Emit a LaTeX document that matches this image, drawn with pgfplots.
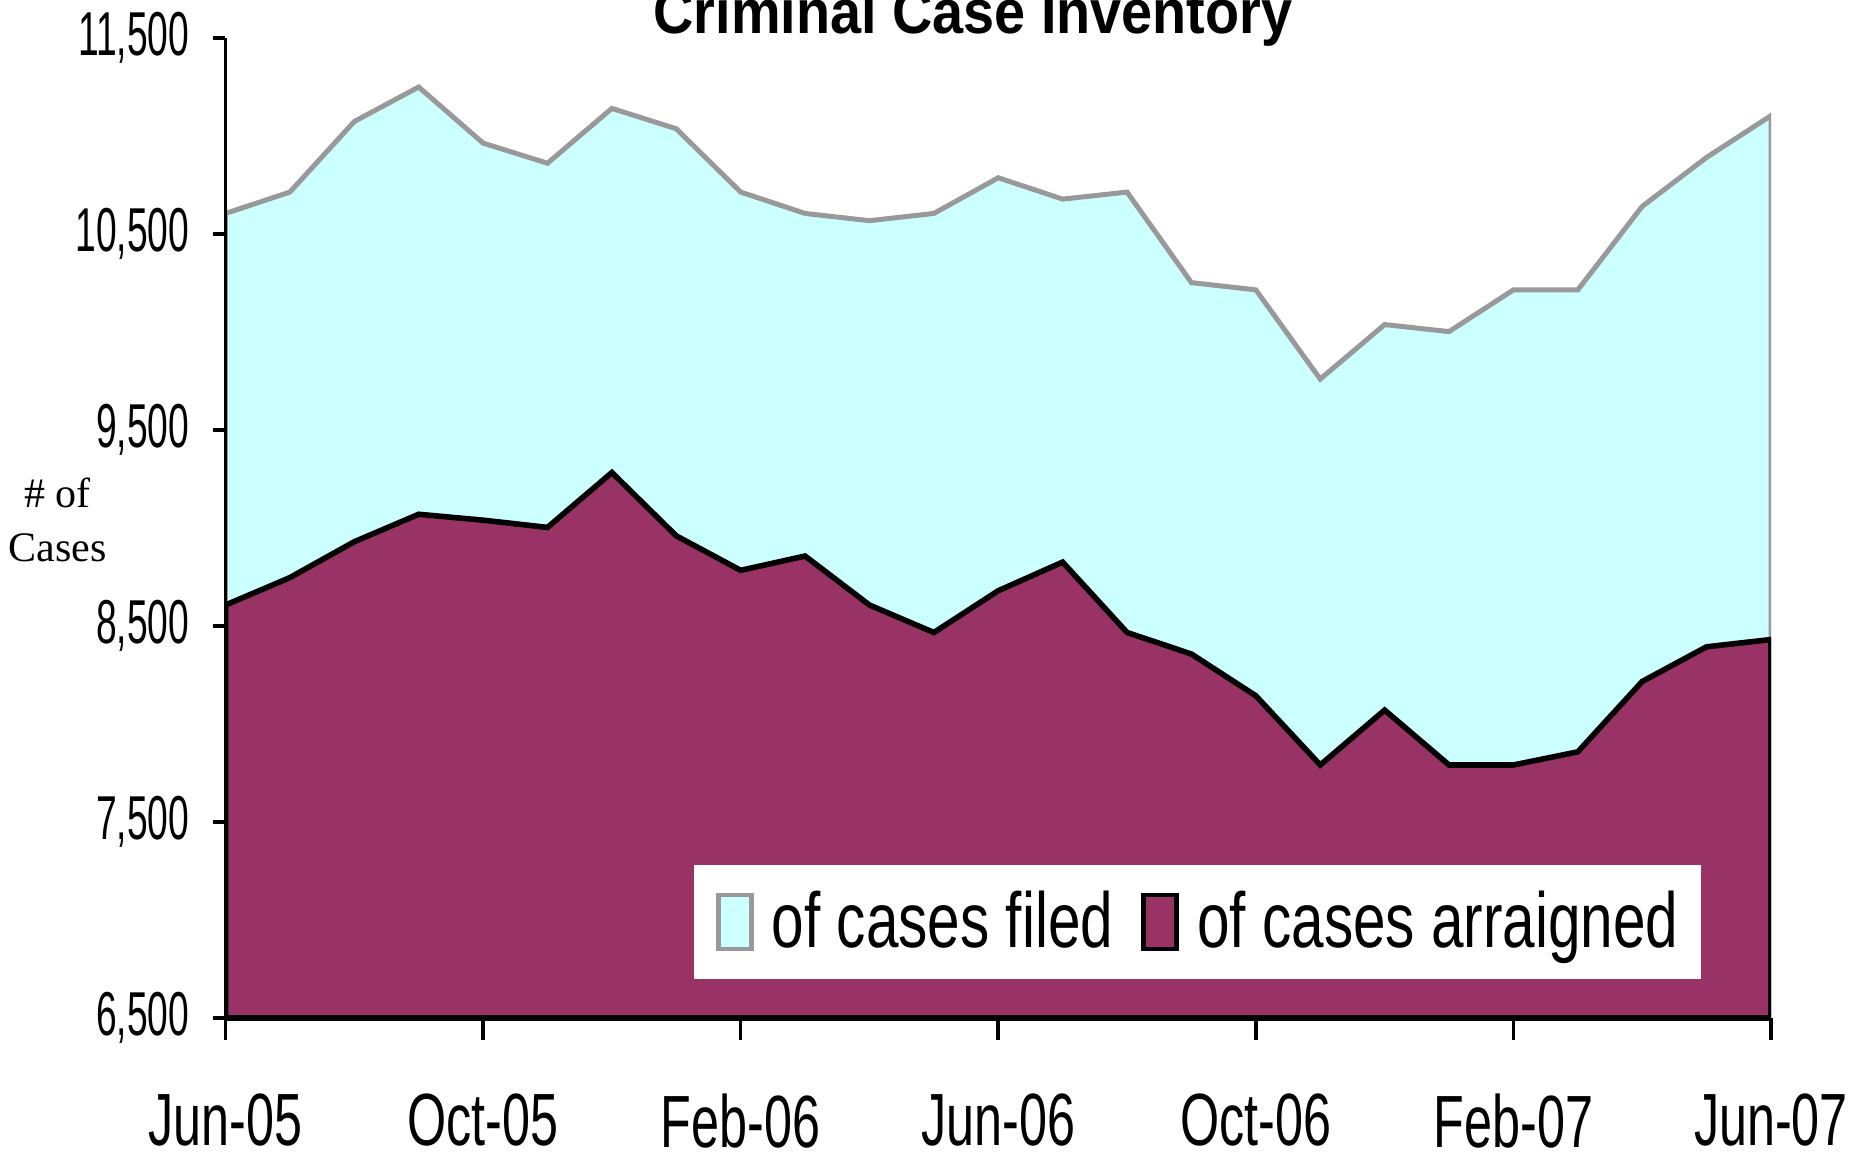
\documentclass[border=0pt]{standalone}
\usepackage{fontspec}
\setmainfont{Liberation Sans}
\usepackage{pgfplots}
\pgfplotsset{compat=1.18}
\newfontfamily\ytfont[FakeStretch=0.6]{Liberation Sans}
\newfontfamily\xtfont[FakeStretch=0.68]{Liberation Sans}
\newfontfamily\lgfont[FakeStretch=0.75]{Liberation Sans}
\newfontfamily\ttlfont[FakeStretch=0.9]{Liberation Sans}
\newfontfamily\serfont{Liberation Serif}
\definecolor{cfill}{HTML}{CCFFFF}
\definecolor{plum}{HTML}{993366}
\definecolor{cgray}{HTML}{999999}
\begin{document}
\begin{tikzpicture}
\begin{axis}[
  name=ax,
  at={(0,0)}, anchor=south west,
  scale only axis, width=386.375pt, height=245pt,
  xmin=0, xmax=24, ymin=6500, ymax=11500,
  axis on top,
  scaled y ticks=false,
  axis x line*=bottom, axis y line*=left,
  x axis line style={line width=1.5pt, -},
  y axis line style={line width=0.9pt, -},
  tick align=outside,
  xtick={0,4,...,24},
  xticklabels={Jun-05,Oct-05,Feb-06,Jun-06,Oct-06,Feb-07,Jun-07},
  ytick={6500,7500,...,11500},
  yticklabels={{6,500},{7,500},{8,500},{9,500},{10,500},{11,500}},
  xtick style={line width=0.9pt, black, /pgfplots/major tick length=5.4pt},
  ytick style={line width=0.9pt, black, /pgfplots/major tick length=3pt},
  minor tick num=0,
  xticklabel style={font=\xtfont\fontsize{18.5}{21}\selectfont, inner sep=0pt, anchor=north, yshift=-14.5pt},
  yticklabel style={font=\ytfont\fontsize{15.5}{18}\selectfont, inner sep=0pt, anchor=east, xshift=-4.6pt},
  title={Criminal Case Inventory},
  title style={at={(axis description cs:0.4837,1)}, anchor=base, yshift=-4.9pt, inner sep=0pt,
    font=\ttlfont\bfseries\fontsize{15.5}{18}\selectfont},
  ylabel={\# of\\Cases},
  ylabel style={at={(axis description cs:-0.1087,0.508)}, anchor=center, rotate=-90, align=center,
    font=\serfont\fontsize{10.5}{13.4}\selectfont},
  legend columns=2,
  legend cell align=left,
  legend style={at={(axis description cs:0.3025,0.0392)}, anchor=south west, draw=none, fill=white,
    inner xsep=5.5pt, inner ysep=6.4pt,
    font=\lgfont\fontsize{19.5}{23}\selectfont,
    nodes={inner sep=0pt},
    /tikz/every odd column/.append style={column sep=4.5pt},
    /tikz/every even column/.append style={column sep=7pt}},
  legend image code/.code={\draw[#1, line width=1.2pt] (0pt,-6.75pt) rectangle (8.3pt,6.75pt);},
]
\addplot[fill=cfill, draw=cgray, line width=1.25pt] coordinates {
(0,10605) (1,10714) (2,11074) (3,11250) (4,10964) (5,10861) (6,11141) (7,11037)
(8,10714) (9,10605) (10,10568) (11,10605) (12,10787) (13,10678) (14,10714) (15,10252)
(16,10215) (17,9760) (18,10038) (19,10002) (20,10215) (21,10215) (22,10641) (23,10891) (24,11104)
} \closedcycle;
\addlegendentry{of cases filed}
\addplot[fill=plum, draw=black, line width=1.4pt] coordinates {
(0,8607) (1,8747) (2,8930) (3,9070) (4,9040) (5,9003) (6,9283) (7,8960)
(8,8784) (9,8857) (10,8607) (11,8467) (12,8680) (13,8826) (14,8467) (15,8357)
(16,8144) (17,7791) (18,8071) (19,7791) (20,7791) (21,7858) (22,8217) (23,8394) (24,8431)
} \closedcycle;
\addlegendentry{of cases arraigned}
\end{axis}
\pgfresetboundingbox
\path (-56.375pt,-35pt) rectangle (411.375pt,254.5pt);
\end{tikzpicture}
\end{document}
